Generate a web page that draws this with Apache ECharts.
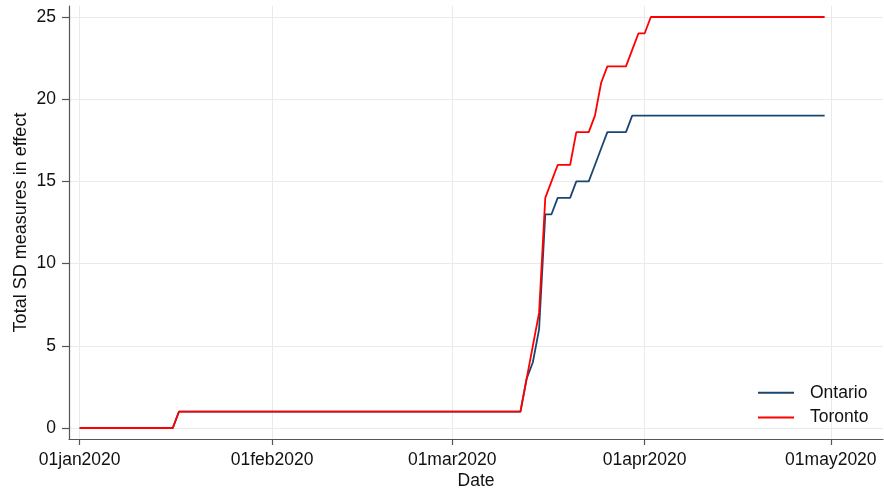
<!DOCTYPE html>
<html>
<head>
<meta charset="utf-8">
<script src="https://cdn.jsdelivr.net/npm/echarts@6/dist/echarts.min.js"></script>
<style>html,body{margin:0;padding:0;background:#fff}#c{width:884px;height:489px}</style>
</head>
<body>
<div id="c"></div>
<script>
// Daily values, 01jan2020 (day 0) .. 30apr2020 (day 120)
const startDate = '2020-01-01';
const ontario = [
  0,0,0,0,0,0,0,0,0,0,0,0,0,0,0,0,            // Jan 1-16
  1,1,1,1,1,1,1,1,1,1,1,1,1,1,1,               // Jan 17-31
  1,1,1,1,1,1,1,1,1,1,1,1,1,1,1,1,1,1,1,1,1,1,1,1,1,1,1,1,1, // Feb 1-29
  1,1,1,1,1,1,1,1,1,1,1,1,                     // Mar 1-12
  3,4,6,13,13,14,14,14,15,15,15,16,17,18,18,18,18,19,19, // Mar 13-31
  19,19,19,19,19,19,19,19,19,19,19,19,19,19,19,19,19,19,19,19,19,19,19,19,19,19,19,19,19,19 // Apr 1-30
];
const toronto = [
  0,0,0,0,0,0,0,0,0,0,0,0,0,0,0,0,
  1,1,1,1,1,1,1,1,1,1,1,1,1,1,1,
  1,1,1,1,1,1,1,1,1,1,1,1,1,1,1,1,1,1,1,1,1,1,1,1,1,1,1,1,1,
  1,1,1,1,1,1,1,1,1,1,1,1,
  3,5,7,14,15,16,16,16,18,18,18,19,21,22,22,22,22,23,24,
  24,25,25,25,25,25,25,25,25,25,25,25,25,25,25,25,25,25,25,25,25,25,25,25,25,25,25,25,25,25
];
const xTickDays = [0, 31, 60, 91, 121];
const xTickLabels = ['01jan2020', '01feb2020', '01mar2020', '01apr2020', '01may2020'];
const yTicks = [0, 5, 10, 15, 20, 25];

const toPairs = arr => arr.map((v, i) => [i, v]);
const labelMap = {};
xTickDays.forEach((d, i) => { labelMap[d] = xTickLabels[i]; });

const font = 'Liberation Sans, Arial, Helvetica, sans-serif';
const legendBase = {
  orient: 'vertical', left: 757, padding: 0,
  itemWidth: 36, itemHeight: 14,
  itemStyle: {opacity: 0},
  textStyle: {fontFamily: font, fontSize: 17.5, color: '#111', padding: [0, 0, 0, 11]}
};
const chart = echarts.init(document.getElementById('c'), null, {renderer: 'canvas'});
chart.setOption({
  animation: false,
  backgroundColor: '#ffffff',
  textStyle: {fontFamily: font},
  grid: {left: 69, right: 1, top: 6, bottom: 50, containLabel: false, outerBoundsMode: 'none'},
  legend: [
    Object.assign({}, legendBase, {top: 383.8, data: ['Ontario']}),
    Object.assign({}, legendBase, {top: 408.5, data: ['Toronto']})
  ],
  xAxis: {
    type: 'value',
    min: -1.72, max: 129.4,
    name: 'Date', nameLocation: 'middle', nameGap: 33, nameMoveOverlap: false,
    nameTextStyle: {fontFamily: font, fontSize: 17.5, color: '#111'},
    axisLine: {show: true, onZero: false, lineStyle: {color: '#555', width: 1.2}},
    axisTick: {show: true, length: 6, customValues: xTickDays, lineStyle: {color: '#555', width: 1.2}},
    axisLabel: {customValues: xTickDays, margin: 12.5, fontSize: 17.5, color: '#111', fontFamily: font,
      formatter: v => labelMap[v] || ''},
    splitLine: {show: true, lineStyle: {color: '#eaeaea', width: 1}}
  },
  yAxis: {
    type: 'value',
    min: -0.67, max: 25.67,
    name: 'Total SD measures in effect', nameLocation: 'middle', nameGap: 39, nameMoveOverlap: false,
    nameTextStyle: {fontFamily: font, fontSize: 18, color: '#111'},
    axisLine: {show: true, onZero: false, lineStyle: {color: '#555', width: 1.2}},
    axisTick: {show: true, length: 7, customValues: yTicks, lineStyle: {color: '#555', width: 1.2}},
    axisLabel: {customValues: yTicks, margin: 13, fontSize: 17.5, color: '#111', fontFamily: font},
    splitLine: {show: true, lineStyle: {color: '#eaeaea', width: 1}}
  },
  series: [
    {name: 'Ontario', type: 'line', data: toPairs(ontario), symbol: 'none',
      lineStyle: {color: '#1a476f', width: 1.8}, itemStyle: {color: '#1a476f'}},
    {name: 'Toronto', type: 'line', data: toPairs(toronto), symbol: 'none',
      lineStyle: {color: '#ff0000', width: 1.8}, itemStyle: {color: '#ff0000'}}
  ]
});
</script>
</body>
</html>
